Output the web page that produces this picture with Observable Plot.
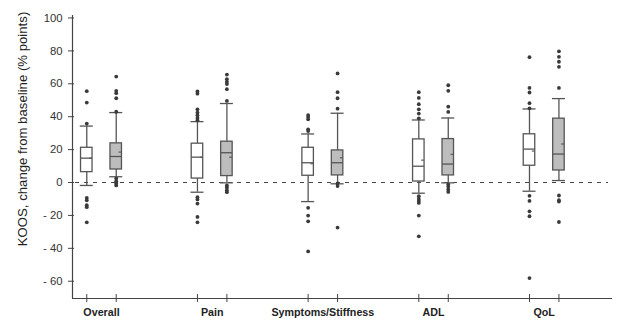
<!DOCTYPE html>
<html><head><meta charset="utf-8">
<script src="https://cdn.jsdelivr.net/npm/d3@7"></script>
<script src="https://cdn.jsdelivr.net/npm/@observablehq/plot@0.6"></script>
<style>body{margin:0;background:#fff} svg{display:block}</style>
</head><body><div id="chart"></div>
<script>
// ---- data ----
const categories = ["Overall", "Pain", "Symptoms/Stiffness", "ADL", "QoL"];
const seriesNames = ["Group A", "Group B"]; // white, gray
const yTicks = [-60, -40, -20, 0, 20, 40, 60, 80, 100];
const yTitle = "KOOS, change from baseline (% points)";

// Group A (white boxes)
const aLow    = [-1.8, -5.9, -11.6, -6.5, -5.3];
const aQ1     = [6.3, 2.4, 4.1, 0.6, 10.2];
const aMedian = [14.8, 15.4, 12.0, 9.9, 20.3];
const aQ3     = [21.1, 23.6, 21.1, 26.2, 29.3];
const aHigh   = [34.3, 37.0, 29.5, 38.0, 44.7];
const aMean   = [14.8, 15.4, 11.4, 13.6, 19.1];
const aOutliers = [
  [55.5, 48.6, 35.8, -9.3, -10.8, -13.8, -15.0, -24.2],
  [55.3, 54.0, 44.5, 42.5, 40.9, 39.2, 37.8, -8.9, -10.3, -12.8, -20.9, -24.2],
  [41.0, 39.8, 38.4, 32.3, 31.3, -15.4, -20.1, -23.6, -41.9],
  [54.9, 51.4, 47.6, 44.5, 41.9, 39.0, -8.3, -10.0, -11.2, -12.4, -20.1, -32.7],
  [76.2, 57.5, 54.7, 48.2, 45.1, -8.1, -11.2, -17.5, -20.5, -58.1]
];

// Group B (gray boxes)
const bLow    = [3.5, -0.2, -0.8, -0.2, 1.2];
const bQ1     = [7.9, 3.9, 4.3, 4.3, 7.3];
const bMedian = [15.8, 18.1, 12.0, 11.2, 17.3];
const bQ3     = [23.8, 24.8, 19.5, 26.4, 38.8];
const bHigh   = [42.5, 48.0, 42.1, 39.2, 51.0];
const bMean   = [18.5, 15.4, 15.0, 17.1, 23.4];
const bOutliers = [
  [64.4, 55.7, 54.3, 51.2, 43.0, 2.5, 0.8, -0.6, -1.8],
  [65.6, 62.8, 61.2, 59.8, 56.7, 49.6, -1.8, -3.0, -4.7, -5.9],
  [66.3, 54.9, 51.2, 44.9, -0.6, -2.2, -27.4],
  [59.1, 55.7, 46.1, 42.9, -1.2, -2.6, -4.3, -5.7],
  [79.7, 76.4, 73.4, 70.3, 57.5, -7.9, -10.8, -11.6, -24.0]
];

// ---- build tables ----
const offset = 0.133, half = 0.052, capHalf = 0.059, meanLen = 0.027;
const stats = [
  {name: seriesNames[0], low: aLow, q1: aQ1, med: aMedian, q3: aQ3, high: aHigh, mean: aMean, out: aOutliers, off: -offset},
  {name: seriesNames[1], low: bLow, q1: bQ1, med: bMedian, q3: bQ3, high: bHigh, mean: bMean, out: bOutliers, off: offset}
];
const rows = [], outRows = [];
categories.forEach((c, i) => {
  stats.forEach(s => {
    const pos = i + s.off;
    rows.push({category: c, series: s.name, pos,
      low: s.low[i], q1: s.q1[i], med: s.med[i], q3: s.q3[i], high: s.high[i], mean: s.mean[i]});
    s.out[i].forEach(v => outRows.push({category: c, series: s.name, pos, v}));
  });
});
const tickPositions = rows.map(d => d.pos);
const fmt = d => d < 0 ? "- " + Math.abs(d) : String(d);
const xDomain = [-0.262, 4.617], yDomain = [-70.5, 101.5];
const stroke = "#555";
const axisColor = "#444";

const chart = Plot.plot({
  width: 617, height: 322,
  marginLeft: 72, marginRight: 5, marginTop: 15, marginBottom: 24,
  style: {fontFamily: "'Liberation Sans', Arial, Helvetica, sans-serif", background: "white", color: "#222"},
  x: {domain: xDomain, axis: null},
  y: {domain: yDomain, axis: null},
  marks: [
    // zero reference line
    Plot.ruleY([0], {stroke: "#444", strokeDasharray: "4,5", strokeWidth: 1, insetLeft: 3, insetRight: 4}),
    // axes lines
    Plot.ruleX([xDomain[0]], {stroke: axisColor, strokeWidth: 1.2}),
    Plot.ruleY([yDomain[0]], {stroke: axisColor, strokeWidth: 1.2}),
    // y ticks + labels
    Plot.ruleY(yTicks, {stroke: axisColor, insetLeft: -4, insetRight: 538}),
    Plot.text(yTicks, {y: d => d, text: fmt, frameAnchor: "left", textAnchor: "end", dx: -10, fontSize: 11.3, fill: "#333"}),
    // x ticks + labels
    Plot.ruleX(tickPositions, {x: d => d, stroke: axisColor, insetTop: 279, insetBottom: -4}),
    Plot.text(categories, {x: (d, i) => i, text: d => d, frameAnchor: "bottom", dy: 17, fontSize: 10.7, fontWeight: "bold", fill: "#222"}),
    // y title
    Plot.text([yTitle], {frameAnchor: "left", textAnchor: "middle", rotate: -90, dx: -50, dy: -28, fontSize: 13.2, fill: "#222"}),
    // whiskers
    Plot.ruleX(rows, {x: "pos", y1: "low", y2: "q1", stroke, strokeWidth: 1.3}),
    Plot.ruleX(rows, {x: "pos", y1: "q3", y2: "high", stroke, strokeWidth: 1.3}),
    Plot.ruleY(rows, {y: "low", x1: d => d.pos - capHalf, x2: d => d.pos + capHalf, stroke, strokeWidth: 1.3}),
    Plot.ruleY(rows, {y: "high", x1: d => d.pos - capHalf, x2: d => d.pos + capHalf, stroke, strokeWidth: 1.3}),
    // outliers
    Plot.dot(outRows, {x: "pos", y: "v", r: 1.9, fill: "#3a3a3a", stroke: "none"}),
    // boxes
    Plot.rect(rows.filter(d => d.series === seriesNames[0]), {x1: d => d.pos - half, x2: d => d.pos + half, y1: "q1", y2: "q3", fill: "white", stroke, strokeWidth: 1.3}),
    Plot.rect(rows.filter(d => d.series === seriesNames[1]), {x1: d => d.pos - half, x2: d => d.pos + half, y1: "q1", y2: "q3", fill: "#bdbdbd", stroke, strokeWidth: 1.3}),
    // medians
    Plot.ruleY(rows, {y: "med", x1: d => d.pos - half, x2: d => d.pos + half, stroke, strokeWidth: 1.3}),
    // means (short tick at right edge)
    Plot.ruleY(rows, {y: "mean", x1: d => d.pos + half - meanLen, x2: d => d.pos + half, stroke, strokeWidth: 1.1})
  ]
});
document.getElementById("chart").appendChild(chart);
</script>
</body></html>
